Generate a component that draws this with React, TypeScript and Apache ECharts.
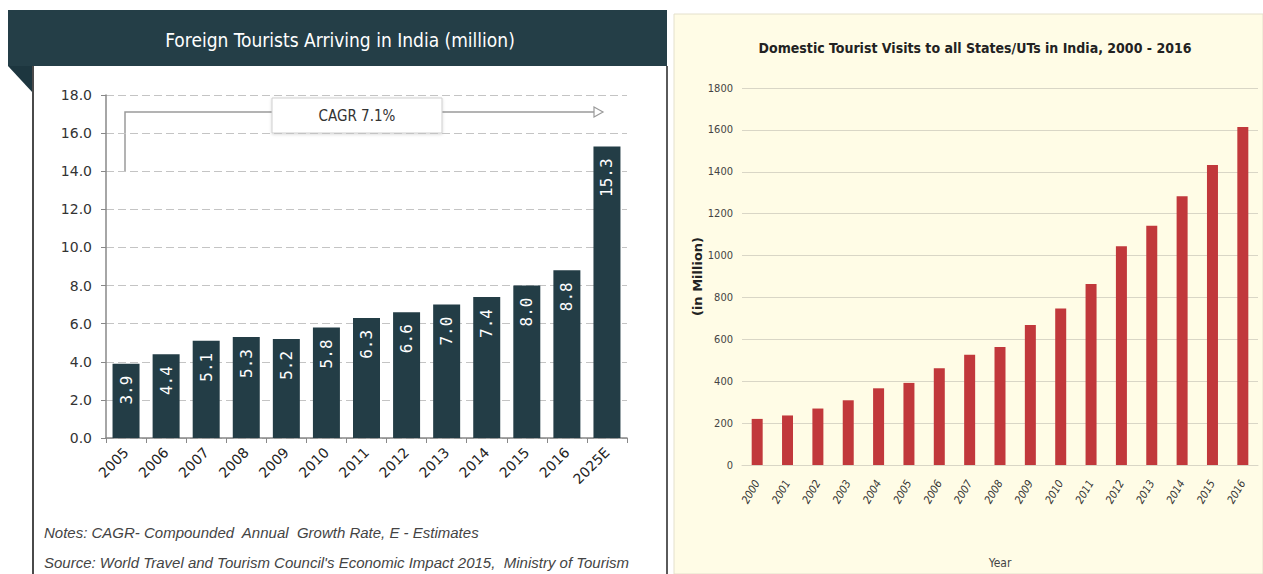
import React, { useEffect, useRef } from "react";
import * as echarts from "echarts";

const foreignYears = ["2005", "2006", "2007", "2008", "2009", "2010", "2011", "2012", "2013", "2014", "2015", "2016", "2025E"];
const foreignValues = [3.9, 4.4, 5.1, 5.3, 5.2, 5.8, 6.3, 6.6, 7.0, 7.4, 8.0, 8.8, 15.3];

const domesticYears = ["2000", "2001", "2002", "2003", "2004", "2005", "2006", "2007", "2008", "2009", "2010", "2011", "2012", "2013", "2014", "2015", "2016"];
const domesticValues = [220.1, 236.5, 269.6, 309.0, 366.2, 392.0, 462.3, 526.6, 563.0, 668.8, 747.7, 864.5, 1045.0, 1142.5, 1282.8, 1432.0, 1613.6];

const leftTitle = "Foreign Tourists Arriving in India (million)";
const rightTitle = "Domestic Tourist Visits to all States/UTs in India, 2000 - 2016";
const cagrText = "CAGR 7.1%";
const notesText = "Notes: CAGR- Compounded  Annual  Growth Rate, E - Estimates";
const sourceText = "Source: World Travel and Tourism Council's Economic Impact 2015,  Ministry of Tourism";

const NARROW = "'Liberation Sans Narrow', 'DejaVu Sans Condensed', 'Liberation Sans', sans-serif";

export default function App() {
  const ref = useRef<HTMLDivElement>(null);
  useEffect(() => {
    if (!ref.current) return;
    const chart = echarts.init(ref.current, undefined, { renderer: "svg" });
    const dark = "#243e47";
    chart.setOption({
      animation: false,
      backgroundColor: "#ffffff",
      grid: [
        { left: 106, top: 95, width: 521, height: 343 },
        { left: 742, top: 88, width: 516, height: 379 },
      ],
      xAxis: [
        {
          type: "category",
          gridIndex: 0,
          data: foreignYears,
          axisLine: { lineStyle: { color: "#888", width: 1.5 } },
          axisTick: { show: true, length: 5, lineStyle: { color: "#888" } },
          axisLabel: { rotate: 45, fontSize: 14, color: "#222", margin: 12, fontFamily: "'DejaVu Sans', sans-serif" },
        },
        {
          type: "category",
          gridIndex: 1,
          data: domesticYears,
          axisLine: { show: true, lineStyle: { color: "#d9d6c6" } },
          axisTick: { show: false },
          axisLabel: { rotate: 60, fontSize: 11, fontStyle: "italic", color: "#333", margin: 16, fontFamily: NARROW },
          name: "Year",
          nameLocation: "middle",
          nameGap: 92,
          nameTextStyle: { fontSize: 12, color: "#444", fontFamily: NARROW },
        },
      ],
      yAxis: [
        {
          type: "value",
          gridIndex: 0,
          min: 0,
          max: 18,
          interval: 2,
          axisLine: { show: true, lineStyle: { color: "#888", width: 1.5 } },
          axisTick: { show: true, length: 5, lineStyle: { color: "#888" } },
          axisLabel: { formatter: (v: number) => v.toFixed(1), fontSize: 14, color: "#333", margin: 14, fontFamily: "'DejaVu Sans', sans-serif" },
          splitLine: { lineStyle: { type: [8, 4], color: "#c4c4c4" } },
        },
        {
          type: "value",
          gridIndex: 1,
          min: 0,
          max: 1800,
          interval: 200,
          axisLine: { show: false },
          axisTick: { show: false },
          axisLabel: { formatter: (v: number) => String(v), fontSize: 11, color: "#444", margin: 9, fontFamily: NARROW },
          splitLine: { lineStyle: { color: "#d9d6c6", width: 1 } },
          name: "(in Million)",
          nameLocation: "middle",
          nameGap: 37,
          nameRotate: 90,
          nameTextStyle: { fontSize: 13, fontWeight: "bold", color: "#222", fontFamily: "'DejaVu Sans', sans-serif" },
        },
      ],
      series: [
        {
          type: "bar",
          xAxisIndex: 0,
          yAxisIndex: 0,
          data: foreignValues,
          barWidth: 27,
          itemStyle: { color: "#233d46" },
          label: {
            show: true,
            position: "insideTop",
            rotate: 90,
            align: "right",
            verticalAlign: "middle",
            distance: 12,
            color: "#ffffff",
            fontSize: 16,
            fontFamily: "'DejaVu Sans Mono', monospace",
            formatter: (p: any) => Number(p.value).toFixed(1),
          },
        },
        {
          type: "bar",
          xAxisIndex: 1,
          yAxisIndex: 1,
          data: domesticValues,
          barWidth: 11,
          itemStyle: { color: "#c1383b" },
        },
      ],
      graphic: [
        { type: "rect", z: -10, shape: { x: 674, y: 14, width: 589, height: 560 }, style: { fill: "#fffce6", stroke: "#e4e0cc", lineWidth: 1 } },
        { type: "rect", z: -10, shape: { x: 8, y: 10, width: 659, height: 56 }, style: { fill: dark } },
        { type: "polygon", z: -10, shape: { points: [[8, 66], [33, 66], [33, 93]] }, style: { fill: "#1d363f" } },
        { type: "line", z: -10, shape: { x1: 33, y1: 66, x2: 33, y2: 574 }, style: { stroke: "#4a4a4a", lineWidth: 2 } },
        { type: "line", z: -10, shape: { x1: 667, y1: 66, x2: 667, y2: 574 }, style: { stroke: "#5a5a5a", lineWidth: 2 } },
        {
          type: "text",
          x: 340,
          y: 40,
          style: { text: leftTitle, fill: "#ffffff", font: `19px ${NARROW}`, align: "center", verticalAlign: "middle" },
        },
        {
          type: "text",
          x: 975,
          y: 48,
          style: { text: rightTitle, fill: "#222222", font: `bold 14px ${NARROW}`, align: "center", verticalAlign: "middle" },
        },
        { type: "polyline", shape: { points: [[125, 171], [125, 112], [272, 112]] }, style: { stroke: "#9a9a9a", lineWidth: 1.5, fill: null } },
        { type: "line", shape: { x1: 442, y1: 112, x2: 595, y2: 112 }, style: { stroke: "#9a9a9a", lineWidth: 1.5 } },
        { type: "polygon", shape: { points: [[594, 107], [603, 112], [594, 117]] }, style: { fill: "#ffffff", stroke: "#9a9a9a", lineWidth: 1.2 } },
        {
          type: "rect",
          shape: { x: 272, y: 98, width: 170, height: 35 },
          style: { fill: "#ffffff", stroke: "#cfcfcf", lineWidth: 1, shadowBlur: 3, shadowColor: "rgba(0,0,0,0.15)", shadowOffsetY: 1 },
        },
        {
          type: "text",
          x: 357,
          y: 116,
          style: { text: cagrText, fill: "#333333", font: `15px ${NARROW}`, align: "center", verticalAlign: "middle" },
        },
        {
          type: "text",
          x: 44,
          y: 532,
          style: { text: notesText, fill: "#444444", font: "italic 15px 'Liberation Sans', sans-serif", align: "left", verticalAlign: "middle" },
        },
        {
          type: "text",
          x: 44,
          y: 562,
          style: { text: sourceText, fill: "#444444", font: "italic 15px 'Liberation Sans', sans-serif", align: "left", verticalAlign: "middle" },
        },
      ],
    });
    return () => chart.dispose();
  }, []);
  return <div ref={ref} style={{ position: "absolute", left: 0, top: 0, width: 1263, height: 574 }} />;
}
